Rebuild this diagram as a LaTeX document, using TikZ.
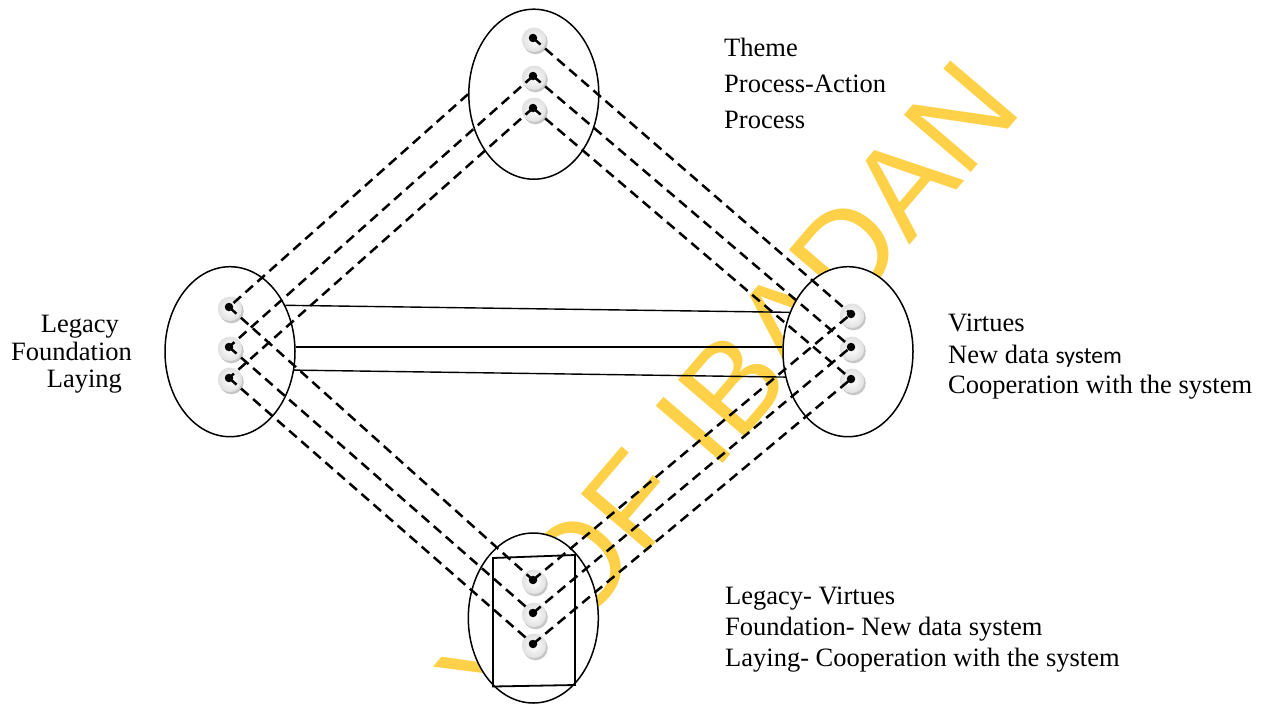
\documentclass[tikz,border=0pt]{standalone}
\usepackage{fontspec}
\setmainfont{Liberation Serif}
\newfontfamily\wmfont{Liberation Sans}
\newfontfamily\calfont{Carlito}
\usetikzlibrary{shapes.geometric}
\definecolor{wmgold}{RGB}{255,209,72}
\tikzset{
  blob/.style={draw=black, line width=1.5pt, fill=white, ellipse, inner sep=0pt,
               minimum width=130pt, minimum height=170pt},
  link/.style={black, line width=2.5pt, dash pattern=on 10pt off 6pt},
  bridge/.style={black, line width=1.4pt},
  lbl/.style={anchor=base west, inner sep=0pt, font=\fontsize{26.5}{30}\selectfont},
  knobshade/.style={circle, fill=gray!45, minimum size=24.5pt, inner sep=0pt,
                    xshift=2.5pt, yshift=-4pt},
  knobface/.style={circle, inner color=white, outer color=gray!24, minimum size=24.5pt,
                   inner sep=0pt, xshift=1pt, yshift=-1.8pt},
  knobdot/.style={circle, fill=black, minimum size=8.5pt, inner sep=0pt},
  wm/.style={anchor=base east, rotate=49.5, inner sep=0pt, text=wmgold,
             font=\wmfont\fontsize{128}{130}\selectfont},
}
% a push-pin: shadow, face and centre dot
\newcommand\knob[2]{%
  \node[knobshade] (#1s) at (#2) {};
  \node[knobface] (#1f) at (#2) {};
  \node[knobdot] (#1) at (#2) {};
}
\begin{document}
\begin{tikzpicture}[x=1pt, y=-1pt]
\useasboundingbox (0,0) rectangle (1268,704);

% watermark
\begin{scope}
  \clip (0,0) rectangle (1268,704);
  \node[wm] (mark) at (1025,110) {Y OF IBADAN};
\end{scope}

% the four groups
\node[blob] (top) at (533.8,94.2) {};
\node[blob] (left) at (230,351.7) {};
\node[blob] (right) at (848,351.7) {};
\node[blob] (bottom) at (533.3,618) {};

% frame inside the lower group
\draw[line width=1.8pt] (493,558) -- (575,555) -- (575,685) -- (493,686.5) -- cycle;

% pins
\knob{t1}{533,38}
\knob{t2}{533,76}
\knob{t3}{533,108}
\knob{l1}{229,307}
\knob{l2}{229,347}
\knob{l3}{229,378}
\knob{r1}{851,314}
\knob{r2}{851,347}
\knob{r3}{851,379}
\knob{b1}{533,580}
\knob{b2}{533,613}
\knob{b3}{533,644}

% dashed links
\draw[link] (top.west) -- (l1);
\draw[link] (t2.center) -- (l2.center);
\draw[link] (t3.center) -- (l3.center);
\draw[link] (t1.center) -- (r1.center);
\draw[link] (t2.center) -- (r2.center);
\draw[link] (t3.center) -- (r3.center);
\draw[link] (l1.center) -- (b1.center);
\draw[link] (l2.center) -- (b2.center);
\draw[link] (l3.center) -- (b3.center);
\draw[link] (b1.center) -- (r1.center);
\draw[link] (b2.center) -- (r2.center);
\draw[link] (b3.center) -- (r3.center);

% solid links between the side groups
\draw[bridge] (left.40) -- (right.146);
\draw[bridge] (left.4) -- (right.176);
\draw[bridge] (left.-16) -- (right.202);

% labels
\node[lbl] (ta) at (724,56.5) {Theme};
\node[lbl] (tb) at (724,92.5) {Process-Action};
\node[lbl] (tc) at (724,128.3) {Process};

\node[lbl] (la) at (40.7,332.3) {Legacy};
\node[lbl] (lb) at (11,360) {Foundation};
\node[lbl] (lc) at (46.7,387.3) {Laying};

\node[lbl] (ra) at (948,331.7) {Virtues};
\node[lbl] (rb) at (948,363) {New data {\calfont\fontsize{23.5}{28}\selectfont system}};
\node[lbl] (rc) at (948,393.3) {Cooperation with the system};

\node[lbl] (ba) at (725,604) {Legacy- Virtues};
\node[lbl] (bb) at (725,635.5) {Foundation- New data system};
\node[lbl] (bc) at (725,666.7) {Laying- Cooperation with the system};
\end{tikzpicture}
\end{document}
